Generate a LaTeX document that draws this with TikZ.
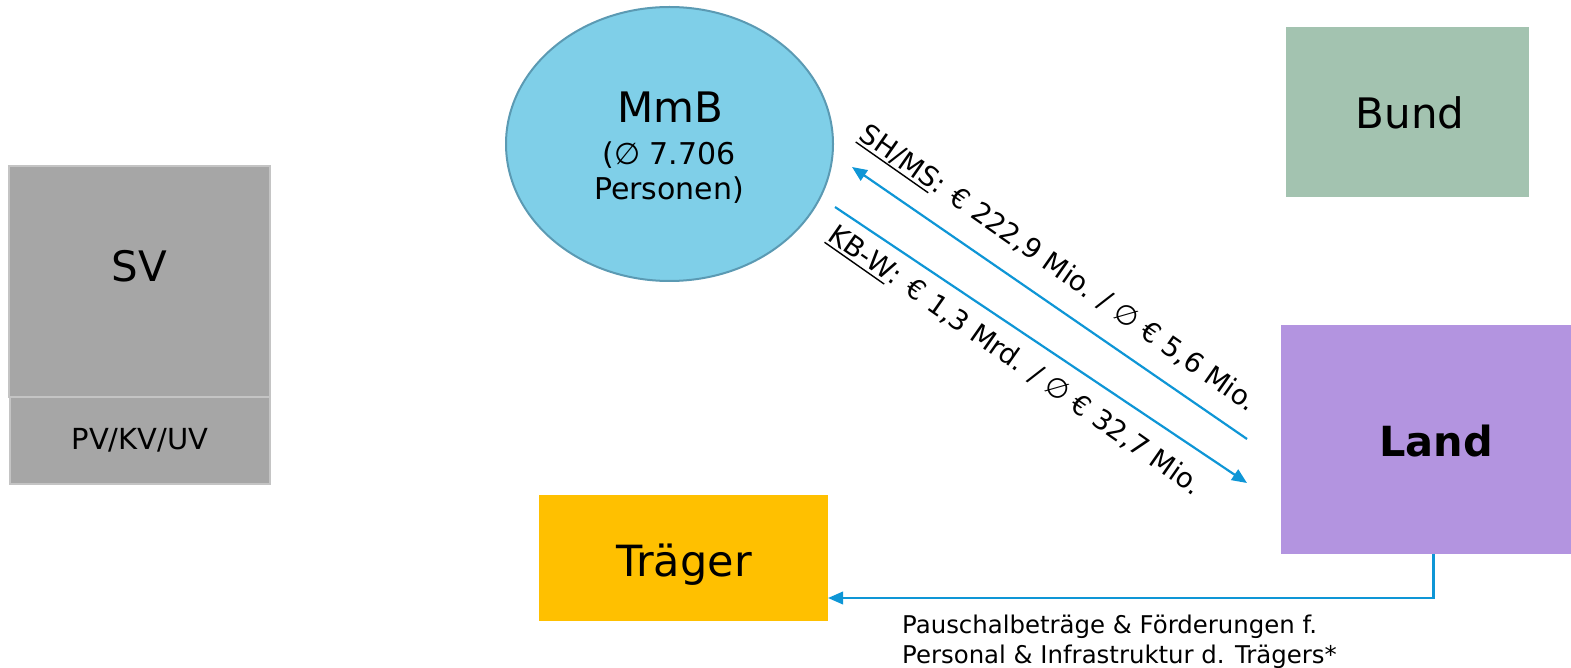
\documentclass[tikz,border=0pt]{standalone}
\usepackage{fontspec}
\setmainfont{DejaVu Sans}
\usetikzlibrary{shapes.geometric,arrows.meta}
\definecolor{mmbfill}{HTML}{7FCFE8}
\definecolor{mmbline}{HTML}{5B9AB3}
\definecolor{bundfill}{HTML}{A3C3B0}
\definecolor{svfill}{HTML}{A6A6A6}
\definecolor{svline}{HTML}{C4C4C4}
\definecolor{landfill}{HTML}{B394E0}
\definecolor{traegerfill}{HTML}{FFC000}
\definecolor{arrowblue}{HTML}{0E96D6}
\newcommand\thickul[1]{\setbox0\hbox{#1}\rlap{\raisebox{-4.5pt}{\rule{\wd0}{1.4pt}}}\box0}
\tikzset{
  box/.style={rectangle, inner sep=0pt, outer sep=0pt},
  big/.style={font=\fontsize{42}{50}\selectfont, inner sep=0pt},
  mid/.style={font=\fontsize{30}{36}\selectfont, inner sep=0pt},
  flow/.style={draw=arrowblue, line width=2.2pt, -{Triangle[length=15pt,width=12.5pt]}},
  diag/.style={font=\fontsize{27.5}{32}\selectfont, inner sep=0pt},
  note/.style={font=\fontsize{24.4}{29.5}\selectfont, inner sep=0pt, align=left}
}
\begin{document}
\begin{tikzpicture}[x=1pt,y=1pt]
\path[use as bounding box] (0,0) rectangle (1571,-668);
% SV
\node[box, fill=svfill, draw=svline, line width=2pt, minimum width=261, minimum height=231] (sv) at (139.5,-281.5) {};
\node[big] (svtext) at (139.5,-266) {SV};
\node[box, fill=svfill, draw=svline, line width=2pt, minimum width=260, minimum height=87] (pv) at (140,-440.5) {};
\node[mid, font=\fontsize{29}{34}\selectfont] (pvtext) at (140,-440) {PV/KV/UV};
% MmB
\node[ellipse, fill=mmbfill, draw=mmbline, line width=2pt, minimum width=327, minimum height=274, inner sep=0pt] (mmb) at (669.5,-144) {};
\node[big, anchor=base] (mmbtext) at (670.5,-123) {MmB};
\node[mid, anchor=base] (mmbavg) at (669,-165) {(∅ 7.706};
\node[mid, anchor=base] (mmbpers) at (669,-200) {Personen)};
% Bund
\node[box, fill=bundfill, minimum width=243, minimum height=170] (bund) at (1407.5,-112) {};
\node[big, anchor=base] (bundtext) at (1410,-129) {Bund};
% Land
\node[box, fill=landfill, minimum width=291, minimum height=229] (land) at (1426.5,-439.5) {};
\node[big, font=\fontsize{41.5}{49}\selectfont\bfseries, anchor=base] (landtext) at (1436,-456) {Land};
% Traeger
\node[box, fill=traegerfill, minimum width=289, minimum height=126] (traeger) at (683.5,-558) {};
\node[big, font=\fontsize{43}{50}\selectfont, anchor=base] (traegertext) at (684,-576) {Träger};
% arrows
\coordinate (a1s) at (1247,-439);
\coordinate (a1e) at (852,-167);
\coordinate (a2s) at (835,-207);
\coordinate (a2e) at (1247,-483);
\draw[flow] (a1s) -- (a1e);
\draw[flow] (a2s) -- (a2e);
\node[diag, rotate=-35] (lab1) at (1058,-269) {\thickul{SH/MS}: € 222,9 Mio. / ∅ € 5,6 Mio.};
\node[diag, rotate=-35] (lab2) at (1015,-361) {\thickul{KB-W}: € 1,3 Mrd. / ∅ € 32,7 Mio.};
\draw[flow] ([xshift=7pt]land.south) |- ([yshift=-40pt]traeger.east);
\node[note, anchor=north west] (notetext) at (902,-615) {Pauschalbeträge \& Förderungen f.\\Personal \& Infrastruktur d. Trägers*};
\end{tikzpicture}
\end{document}
